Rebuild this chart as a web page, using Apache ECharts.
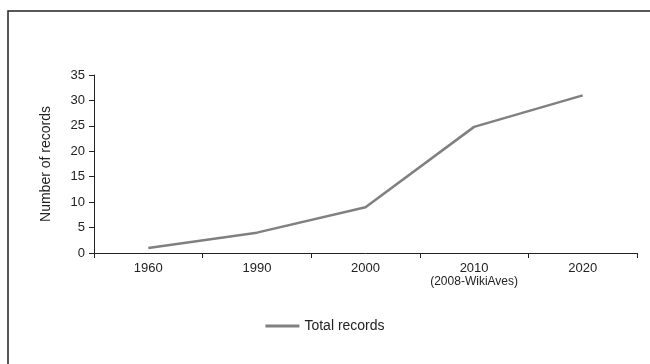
<!DOCTYPE html>
<html>
<head>
<meta charset="utf-8">
<script src="https://cdn.jsdelivr.net/npm/echarts@6/dist/echarts.min.js"></script>
<style>
  html, body { margin: 0; padding: 0; background: #fff; }
  #chart { width: 650px; height: 364px; }
</style>
</head>
<body>
<div id="chart"></div>
<script>
var categories = ['1960', '1990', '2000', '2010\n{sub|(2008-WikiAves)}', '2020'];
var totalRecords = [1, 4, 9, 24.8, 31];
var seriesName = 'Total records';

var option = {
  animation: false,
  textStyle: { fontFamily: 'Liberation Sans, Arial, sans-serif', color: '#222' },
  graphic: [
    {
      type: 'rect',
      shape: { x: 8, y: 11, width: 700, height: 420 },
      style: { fill: 'none', stroke: '#222', lineWidth: 1.5 }
    }
  ],
  grid: { left: 94, right: 13, top: 75, bottom: 111 },
  legend: {
    bottom: 26,
    left: 'center',
    itemWidth: 34,
    itemHeight: 3,
    icon: 'rect',
    textStyle: { fontSize: 14, color: '#222' },
    data: [seriesName]
  },
  xAxis: {
    type: 'category',
    data: categories,
    boundaryGap: true,
    axisLine: { lineStyle: { color: '#222', width: 1 } },
    axisTick: { show: true, interval: 0, length: 5, lineStyle: { color: '#222' } },
    axisLabel: {
      interval: 0,
      color: '#222',
      fontSize: 13,
      margin: 9,
      lineHeight: 13,
      rich: { sub: { fontSize: 12, color: '#222', lineHeight: 13 } }
    }
  },
  yAxis: {
    type: 'value',
    min: 0,
    max: 35,
    interval: 5,
    name: 'Number of records',
    nameLocation: 'middle',
    nameGap: 41,
    nameTextStyle: { fontSize: 14, color: '#222' },
    axisLine: { show: true, lineStyle: { color: '#222', width: 1 } },
    axisTick: { show: true, length: 5, lineStyle: { color: '#222' } },
    axisLabel: { color: '#222', fontSize: 13, margin: 9 },
    splitLine: { show: false }
  },
  series: [
    {
      name: seriesName,
      type: 'line',
      data: totalRecords,
      symbol: 'none',
      lineStyle: { color: '#808080', width: 2.5 },
      itemStyle: { color: '#808080' }
    }
  ]
};

var myChart = echarts.init(document.getElementById('chart'));
myChart.setOption(option, true);
</script>
</body>
</html>
